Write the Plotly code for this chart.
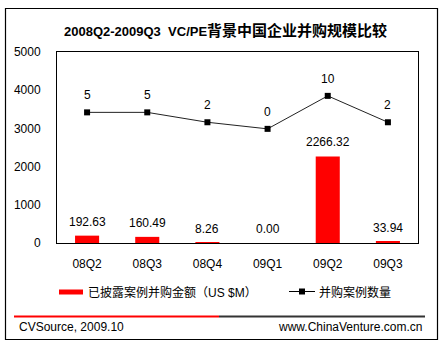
import plotly.graph_objects as go

categories = ["08Q2", "08Q3", "08Q4", "09Q1", "09Q2", "09Q3"]
amounts = [192.63, 160.49, 8.26, 0.00, 2266.32, 33.94]
amount_labels = ["192.63", "160.49", "8.26", "0.00", "2266.32", "33.94"]
counts = [5, 5, 2, 0, 10, 2]
y_ticks = [0, 1000, 2000, 3000, 4000, 5000]

FONT = "Arial, 'Liberation Sans', 'Noto Sans CJK SC', sans-serif"
W, H = 440, 347
ML, MR, MT, MB = 57, 22, 52, 104
PW, PH = W - ML - MR, H - MT - MB


def px(x):
    return (x - ML) / PW


def py(y):
    return (H - MB - y) / PH


fig = go.Figure()
fig.add_trace(go.Bar(
    x=categories, y=amounts, marker=dict(color="#FF0000", line=dict(width=0)),
    width=0.4, showlegend=False, hoverinfo="skip"))
fig.add_trace(go.Scatter(
    x=categories, y=counts, yaxis="y2", mode="lines+markers",
    line=dict(color="#222222", width=1),
    marker=dict(symbol="square", size=6, color="black"),
    showlegend=False, hoverinfo="skip"))

annotations = []
for c, v, t in zip(categories, amounts, amount_labels):
    annotations.append(dict(x=c, y=v, xref="x", yref="y", text=t, showarrow=False,
                            yanchor="bottom", yshift=5,
                            font=dict(family=FONT, size=12, color="black")))
for c, n in zip(categories, counts):
    annotations.append(dict(x=c, y=n, xref="x", yref="y2", text=str(n), showarrow=False,
                            yanchor="bottom", yshift=8,
                            font=dict(family=FONT, size=12, color="black")))

# title
annotations.append(dict(
    x=px(225), y=py(31), xref="paper", yref="paper", showarrow=False,
    xanchor="center", yanchor="middle",
    text="<b><span style='font-size:13px'>2008Q2-2009Q3  VC/PE</span>"
         "<span style='font-size:15px'>背景中国企业并购规模比较</span></b>",
    font=dict(family=FONT, size=14, color="black")))

# legend texts
annotations.append(dict(x=px(86), y=py(292), xref="paper", yref="paper", showarrow=False,
                        xanchor="left", yanchor="middle", text="已披露案例并购金额（US $M）",
                        font=dict(family=FONT, size=12, color="black")))
annotations.append(dict(x=px(317), y=py(292), xref="paper", yref="paper", showarrow=False,
                        xanchor="left", yanchor="middle", text="并购案例数量",
                        font=dict(family=FONT, size=12, color="black")))
# footer
annotations.append(dict(x=px(17), y=py(327), xref="paper", yref="paper", showarrow=False,
                        xanchor="left", yanchor="middle", text="CVSource, 2009.10",
                        font=dict(family=FONT, size=12, color="black")))
annotations.append(dict(x=px(424), y=py(327), xref="paper", yref="paper", showarrow=False,
                        xanchor="right", yanchor="middle", text="www.ChinaVenture.com.cn",
                        font=dict(family=FONT, size=12, color="black")))

shapes = [
    # outer border
    dict(type="rect", xref="paper", yref="paper", x0=px(5.5), x1=px(437.5),
         y0=py(8.5), y1=py(339.5), line=dict(color="black", width=1.2), layer="below"),
    # legend swatches
    dict(type="rect", xref="paper", yref="paper", x0=px(59), x1=px(83),
         y0=py(289.5), y1=py(294.5), fillcolor="#FF0000", line=dict(width=0)),
    dict(type="line", xref="paper", yref="paper", x0=px(289), x1=px(315),
         y0=py(291.5), y1=py(291.5), line=dict(color="black", width=1)),
    dict(type="rect", xref="paper", yref="paper", x0=px(299), x1=px(305),
         y0=py(288.5), y1=py(294.5), fillcolor="black", line=dict(width=0)),
    # footer separator
    dict(type="line", xref="paper", yref="paper", x0=px(14), x1=px(219),
         y0=py(316.5), y1=py(316.5), line=dict(color="#FF0000", width=2)),
    dict(type="line", xref="paper", yref="paper", x0=px(219), x1=px(425),
         y0=py(316.5), y1=py(316.5), line=dict(color="#333333", width=2)),
]

fig.update_layout(
    width=W, height=H, margin=dict(l=ML, r=MR, t=MT, b=MB),
    paper_bgcolor="white", plot_bgcolor="white",
    font=dict(family=FONT, size=12, color="black"),
    bargap=0.6,
    xaxis=dict(showgrid=False, showline=True, linecolor="black", linewidth=1, mirror=True,
               ticks="", ticklabelstandoff=10, zeroline=False,
               tickfont=dict(family=FONT, size=12, color="black")),
    yaxis=dict(range=[0, 5000], tickvals=y_ticks, showgrid=False, showline=True,
               linecolor="black", linewidth=1, mirror=True, ticks="", zeroline=False,
               ticklabelstandoff=13, tickfont=dict(family=FONT, size=12, color="black")),
    yaxis2=dict(overlaying="y", range=[-34.6, 23.3], visible=False, showgrid=False),
    annotations=annotations, shapes=shapes,
)

fig.write_html("out.html")
